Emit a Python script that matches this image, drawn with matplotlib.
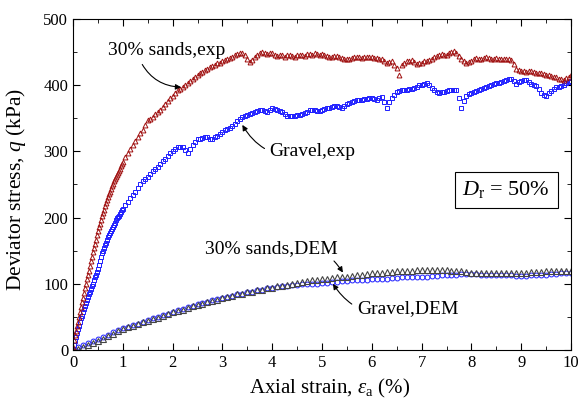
import numpy as np
import matplotlib
matplotlib.use('Agg')
import matplotlib.pyplot as plt
from matplotlib.ticker import MultipleLocator

plt.rcParams['font.family'] = ['Liberation Serif', 'DejaVu Serif']
plt.rcParams['mathtext.fontset'] = 'custom'
plt.rcParams['mathtext.rm'] = 'Liberation Serif'
plt.rcParams['mathtext.it'] = 'Liberation Serif:italic'

# experimental curves: strain (%) and deviator stress (kPa)
strain_exp = [round(0.02 * i, 2) for i in range(50)] + \
             [round(1.0 + 0.05 * i, 2) for i in range(181)]

sands_exp = [5, 15, 22, 28, 36, 42, 50, 58, 65, 72,
             78, 86, 93, 100, 107, 113, 120, 127, 134, 141,
             148, 154, 160, 166, 173, 180, 186, 191, 197, 202,
             207, 212, 217, 222, 226, 231, 235, 239, 243, 247,
             251, 255, 258, 262, 265, 268, 271, 274, 278, 281,
             # 1.0 .. 10.0
             284, 291, 298, 304, 310, 316, 322, 328, 333, 340,
             347, 349, 352, 356, 359, 363, 367, 372, 376, 380,
             384, 388, 392, 395, 398, 401, 404, 407, 410, 413,
             416, 418, 420, 423, 425, 427, 429, 431, 433, 434,
             436, 438, 440, 441, 443, 445, 447, 448, 449, 446,
             440, 435, 438, 442, 445, 448, 450, 448, 447, 449,
             448, 446, 444, 445, 445, 443, 446, 445, 444, 443,
             445, 446, 446, 444, 447, 447, 446, 448, 447, 446,
             447, 445, 444, 443, 442, 444, 444, 442, 441, 439,
             439, 440, 441, 442, 443, 442, 441, 442, 443, 442,
             442, 441, 441, 440, 440, 437, 433, 435, 436, 430,
             426, 415, 430, 433, 436, 437, 438, 435, 432, 433,
             434, 436, 437, 438, 440, 442, 444, 446, 447, 445,
             446, 448, 450, 451, 448, 444, 440, 437, 434, 435,
             437, 439, 441, 440, 439, 441, 442, 441, 440, 440,
             441, 440, 439, 440, 440, 439, 438, 432, 425, 423,
             422, 421, 420, 421, 421, 420, 419, 418, 418, 417,
             416, 415, 414, 413, 412, 410, 409, 408, 411, 413,
             415]

gravel_exp = [2, 8, 14, 20, 26, 32, 37, 42, 48, 52,
              57, 62, 66, 71, 76, 80, 84, 88, 92, 96,
              100, 105, 110, 114, 118, 122, 128, 135, 141, 146,
              150, 154, 158, 162, 166, 170, 173, 176, 180, 183,
              186, 189, 192, 196, 199, 201, 203, 206, 208, 211,
              # 1.0 .. 10.0
              213, 219, 224, 229, 234, 239, 244, 250, 255, 258,
              262, 266, 270, 273, 277, 281, 285, 289, 293, 297,
              301, 304, 306, 307, 306, 302, 297, 303, 310, 314,
              318, 319, 320, 321, 321, 319, 318, 321, 324, 327,
              330, 332, 334, 336, 338, 342, 346, 349, 352, 354,
              355, 357, 358, 360, 361, 362, 362, 361, 360, 363,
              365, 364, 363, 361, 359, 356, 354, 353, 353, 354,
              355, 355, 356, 358, 360, 362, 363, 362, 361, 361,
              362, 364, 365, 366, 367, 368, 368, 367, 366, 369,
              371, 373, 374, 376, 377, 378, 378, 379, 379, 380,
              380, 379, 378, 380, 382, 375, 366, 374, 380, 385,
              389, 391, 392, 392, 393, 394, 395, 396, 398, 400,
              401, 402, 403, 400, 396, 392, 389, 388, 389, 390,
              391, 392, 392, 393, 393, 380, 366, 376, 383, 386,
              388, 390, 391, 393, 394, 396, 398, 399, 400, 402,
              403, 404, 405, 407, 408, 409, 410, 407, 402, 405,
              407, 408, 408, 405, 402, 400, 399, 394, 388, 385,
              384, 388, 391, 394, 397, 398, 399, 401, 403, 405,
              407]

# DEM curves
strain_dem = [round(0.1 * i, 1) for i in range(101)]

gravel_dem = [0, 4, 8, 11, 14, 17, 20, 23, 27, 30,
              33, 35, 38, 40, 43, 45, 48, 50, 53, 55,
              58, 60, 62, 65, 67, 69, 71, 73, 75, 77,
              79, 80, 82, 84, 85, 87, 88, 90, 91, 93,
              94, 95, 96, 97, 98, 98, 99, 99, 100, 100,
              101, 101, 102, 103, 104, 104, 105, 105, 106, 106,
              107, 107, 108, 108, 109, 109, 110, 110, 110, 111,
              111, 111, 112, 112, 113, 113, 114, 114, 115, 115,
              115, 115, 114, 114, 114, 113, 113, 113, 113, 112,
              112, 112, 113, 113, 114, 114, 115, 115, 116, 116, 117]

sands_dem = [0, 2, 5, 8, 11, 14, 17, 21, 24, 28,
             31, 34, 36, 39, 42, 44, 47, 49, 52, 54,
             57, 59, 61, 64, 66, 68, 70, 72, 74, 76,
             78, 80, 82, 84, 85, 87, 88, 90, 91, 93,
             94, 96, 97, 98, 100, 101, 102, 104, 105, 106,
             107, 108, 109, 110, 110, 111, 112, 113, 114, 115,
             116, 116, 117, 118, 118, 119, 119, 120, 120, 121,
             121, 121, 121, 121, 121, 121, 120, 120, 119, 118,
             117, 117, 116, 116, 116, 116, 116, 116, 116, 117,
             117, 117, 118, 118, 118, 119, 119, 119, 120, 120, 120]

red = '#a01010'
blue = '#1f1fff'
grey = '#454545'

fig = plt.figure(figsize=(5.8, 4.11), dpi=100)
ax = fig.add_axes([73/580, 61/411, 498/580, 331/411])

ax.plot(strain_dem, gravel_dem, 'o', mfc='none', mec=blue, ms=3.5, mew=0.7)
ax.plot(strain_dem, sands_dem, '^', mfc='none', mec=grey, ms=4, mew=0.8)
ax.plot(strain_exp, gravel_exp, 's', mfc='none', mec=blue, ms=3.2, mew=0.7)
ax.plot(strain_exp, sands_exp, '^', mfc='none', mec=red, ms=3.5, mew=0.7)

ax.set_xlim(0, 10)
ax.set_ylim(0, 500)
ax.xaxis.set_major_locator(MultipleLocator(1))
ax.xaxis.set_minor_locator(MultipleLocator(0.5))
ax.yaxis.set_major_locator(MultipleLocator(100))
ax.yaxis.set_minor_locator(MultipleLocator(50))
ax.tick_params(which='both', direction='in', top=True, right=True, labelsize=12)
ax.tick_params(which='major', length=5)
ax.tick_params(which='minor', length=3)

ax.set_xlabel('Axial strain, $\\varepsilon_{\\rm a}$ (%)', fontsize=15)
ax.set_ylabel('Deviator stress, $q$ (kPa)', fontsize=15.5)
ax.xaxis.set_label_coords(0.516, -0.08)
ax.yaxis.set_label_coords(-0.09, 0.486)

arw = dict(arrowstyle='-|>', color='black', lw=0.8, mutation_scale=8)
ax.annotate('30% sands,exp', xy=(2.17, 397), xytext=(0.7, 452), fontsize=14,
            ha='left', va='center',
            arrowprops=dict(arw, connectionstyle='arc3,rad=0.3', relpos=(0.27, 0.0),
                            shrinkA=2, shrinkB=0))
ax.annotate('Gravel,exp', xy=(3.4, 340), xytext=(3.95, 300), fontsize=14,
            ha='left', va='center',
            arrowprops=dict(arw, connectionstyle='arc3,rad=-0.4', shrinkA=2, shrinkB=0))
ax.annotate('30% sands,DEM', xy=(5.42, 117), xytext=(2.65, 153), fontsize=14,
            ha='left', va='center',
            arrowprops=dict(arw, connectionstyle='arc3,rad=-0.4', shrinkA=1, shrinkB=0))
ax.annotate('Gravel,DEM', xy=(5.22, 100), xytext=(5.7, 63), fontsize=14,
            ha='left', va='center',
            arrowprops=dict(arw, connectionstyle='arc3,rad=-0.4', shrinkA=2, shrinkB=0))

ax.text(8.7, 242, '$D_{\\rm r}$ = 50%', fontsize=16, ha='center', va='center',
        bbox=dict(boxstyle='square,pad=0.35', fc='white', ec='black', lw=0.8))

fig.savefig('out.png', dpi=100)
